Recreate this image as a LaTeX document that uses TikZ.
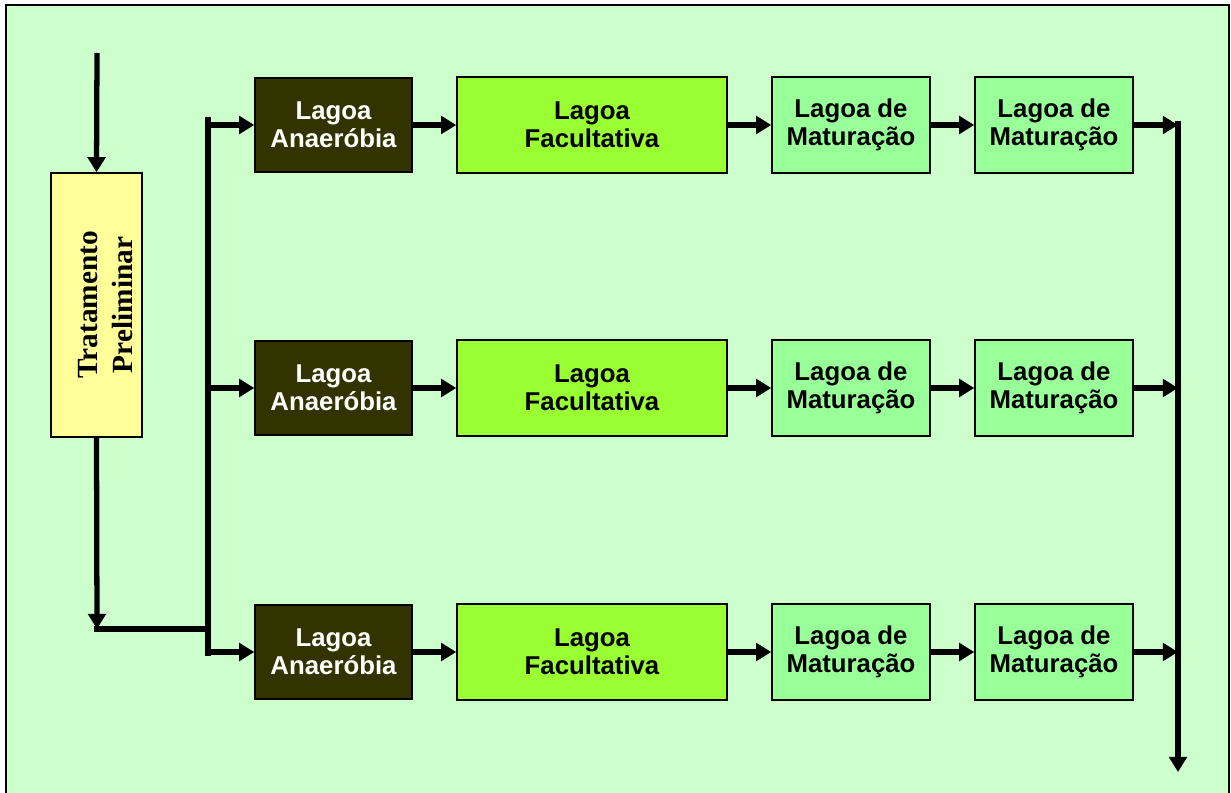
\documentclass[tikz,border=0pt]{standalone}
\usepackage{fontspec}
\setmainfont{Liberation Sans}
\newfontfamily\timesbf{Liberation Serif}
\usetikzlibrary{positioning,arrows.meta}

\definecolor{bgcol}{HTML}{CCFFCC}
\definecolor{precol}{HTML}{FFFF99}
\definecolor{anacol}{HTML}{333300}
\definecolor{faccol}{HTML}{99FF33}
\definecolor{matcol}{HTML}{99FF99}

\tikzset{
    lagoon/.style   = {draw, line width=1.2pt, align=center, inner sep=0pt,
                       font=\fontsize{22}{24}\selectfont\bfseries},
    anaer/.style    = {lagoon, fill=anacol, text=white, minimum width=4.71cm, minimum height=2.82cm},
    facult/.style   = {lagoon, fill=faccol, minimum width=8.1cm, minimum height=2.88cm},
    matur/.style    = {lagoon, fill=matcol, minimum width=4.74cm, minimum height=2.88cm},
    pretreat/.style = {draw, line width=1.2pt, fill=precol, minimum width=2.73cm, minimum height=7.92cm},
    pipe/.style     = {line width=4.5pt, line cap=rect},
    flow/.style     = {line width=4.5pt, -{Triangle[length=13pt,width=15pt]}}
}

\begin{document}
\begin{tikzpicture}[x=0.03cm, y=-0.03cm]
        % Frame
        \useasboundingbox (0,0) rectangle (1231,793);
        \draw[line width=1.5pt, fill=bgcol] (6,5) rectangle (1229,810);

        % Preliminary treatment
        \node[pretreat] (pre) at (96.5,305) {};
        \node[rotate=90, align=center, font=\fontsize{25}{30}\selectfont\timesbf\bfseries] (preText)
            at ([xshift=0.27cm]pre.center) {Tratamento\\Preliminar};

        % Place nodes (three lines of ponds)
        \foreach \r/\y in {1/125, 2/388, 3/652} {
            \node[anaer]  (an\r)  at (333.5,\y) {Lagoa\\Anaeróbia};
            \node[facult] (fa\r)  at (592,\y)   {Lagoa\\Facultativa};
            \node[matur]  (ma\r)  at (851,\y)   {Lagoa de\\Maturação};
            \node[matur]  (mb\r)  at (1054,\y)  {Lagoa de\\Maturação};
        }

        % Bus coordinates
        \coordinate (in)      at (97,53);
        \coordinate (split)   at (97,629);
        \coordinate (busTop)  at (208,120);
        \coordinate (busBot)  at (208,653);
        \coordinate (outTop)  at (1178,124);
        \coordinate (out)     at (1178,772);

        % Draw edges
        \draw[flow] (in) -- (pre.north);
        \draw[flow] (pre.south) -- (split);
        \draw[pipe] (split) -- (split -| busTop);
        \draw[pipe] (busTop) -- (busBot);
        \draw[pipe] (outTop) -- (outTop |- mb3.east);
        \draw[flow] (outTop |- mb3.east) -- (out);

        \foreach \r in {1,2,3} {
            \draw[flow] (an\r.west -| busTop) -- (an\r.west);
            \draw[flow] (an\r) -- (fa\r);
            \draw[flow] (fa\r) -- (ma\r);
            \draw[flow] (ma\r) -- (mb\r);
            \draw[flow] (mb\r.east) -- (mb\r.east -| outTop);
        }
    \end{tikzpicture}
\end{document}
